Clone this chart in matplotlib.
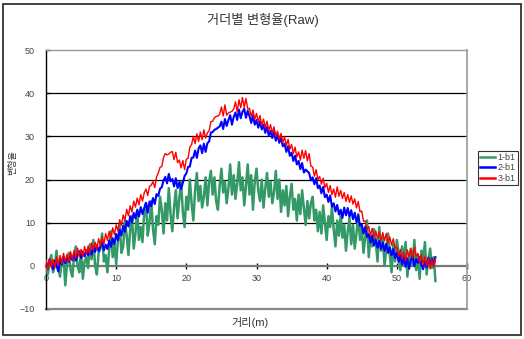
import numpy as np
import matplotlib
matplotlib.use("Agg")
import matplotlib.pyplot as plt
from matplotlib.patches import Rectangle
from matplotlib.lines import Line2D

plt.rcParams['font.family'] = ['Liberation Sans', 'Noto Sans CJK KR', 'DejaVu Sans']

title = "거더별 변형율(Raw)"
xlabel = "거리(m)"
ylabel = "변형율"
series_names = ["1-b1", "2-b1", "3-b1"]
series_colors = ["#339966", "#0000FF", "#FF0000"]
x_ticks = [0, 10, 20, 30, 40, 50, 60]
y_ticks = [-10, 0, 10, 20, 30, 40, 50]

# sample positions along the girder, every 0.25 m
distance = np.arange(0, 55.51, 0.25)

b1_1 = [
    1.0, -2.0, 0.5, 2.5,    -1.5, 0.0, 3.5, -0.5,  -2.5, 1.5, 2.0, -4.5,
    0.5, 3.0, -1.0, -2.5,   2.0, 4.5, 0.0, -1.5,   3.5, -3.0, 1.0, 2.0,
    -0.5, 5.0, 1.5, 6.0,    0.0, -2.0, 3.0, 4.0,   7.5, 1.0, 2.5, -1.5,
    3.5, 8.0, 2.0, 5.0,     0.5, 6.0, 9.5, 3.0,    4.5, 10.5, 7.0, 2.5,
    8.5, 11.5, 4.0, 7.5,    13.0, 6.0, 9.0, 5.5,   12.5, 14.5, 7.0, 10.0,
    15.0, 8.5, 5.0, 11.5,   9.5, 16.0, 13.0, 7.5,  14.5, 10.5, 18.0, 12.0,
    8.0, 13.5, 17.5, 11.0,  15.5, 19.5, 12.5, 9.0, 16.0, 13.0, 20.0, 14.5,
    10.5, 17.5, 21.5, 15.0, 18.5, 13.5, 16.0, 20.5, 14.0, 19.5, 22.0, 16.5,
    20.5, 15.0, 13.0, 18.5, 22.5, 17.0, 19.5, 14.5, 18.0, 23.5, 16.5, 21.0,
    15.5, 19.0, 24.0, 17.5, 20.5, 14.0, 18.5, 23.5, 16.5, 21.0, 13.0, 19.5,
    22.5, 17.5, 15.0, 20.0, 13.5, 18.0, 21.5, 16.0, 19.5, 14.5, 17.0, 22.0,
    15.5, 20.0, 12.5, 17.5, 14.0, 18.5, 11.5, 16.0, 19.0, 13.0, 15.5, 10.5,
    16.5, 12.0, 17.5, 13.5, 9.5, 15.0, 11.0, 14.5, 16.0, 10.5, 13.0, 8.0,
    12.5, 7.5, 14.0, 10.0,  6.0, 11.5, 9.0, 13.5,  8.5, 4.5, 10.5, 7.0,
    12.0, 6.5, 9.5, 3.5,    8.0, 11.0, 5.0, 9.5,   4.0, 7.5, 12.0, 6.0,
    9.0, 3.0, 6.5, 10.5,    2.0, 7.0, 4.5, 8.5,    5.5, 1.0, 9.0, 3.5,
    6.5, 0.0, 4.0, 7.5,     2.5, -1.5, 5.0, 1.0,   6.0, 3.0, -1.0, 4.5,
    0.5, 5.5, -2.5, 2.0,    4.0, 0.0, 6.0, -1.0,   2.5, -3.0, 3.5, 1.0,
    5.5, -2.0, 1.5, 4.0,    -0.5, 2.0, -3.5,
]

b1_2 = [
    0.8, -0.6, 1.5, 0.2,    -0.8, 1.2, 0.0, -1.3,  1.6, 0.3, 2.2, 0.6,
    2.0, 0.9, 2.6, 1.3,     2.9, 1.2, 2.4, 3.4,    1.8, 3.3, 2.2, 3.6,
    2.4, 3.9, 2.6, 4.4,     3.2, 4.8, 3.4, 4.6,    5.3, 3.6, 4.9, 3.9,
    5.9, 4.4, 6.4, 5.0,     7.4, 5.9, 8.3, 7.0,    9.3, 7.9, 10.4, 9.1,
    11.5, 10.0, 12.3, 11.0, 12.9, 11.4, 13.6, 12.0, 13.4, 14.6, 12.3, 14.9,
    13.8, 15.7, 14.3, 16.6, 16.2, 17.9, 18.2, 19.8, 20.6, 19.1, 21.3, 19.6,
    20.1, 18.4, 20.3, 18.0, 19.4, 17.8, 19.2, 20.8, 21.4, 22.9, 23.0, 25.0,
    25.1, 26.7, 25.0, 27.2, 27.9, 26.1, 28.3, 26.4, 28.4, 28.8, 30.9, 31.0,
    31.5, 31.7, 32.0, 32.3, 33.4, 31.7, 34.0, 32.4, 33.8, 34.9, 32.7, 34.5,
    35.5, 33.8, 36.2, 34.2, 35.7, 36.4, 34.3, 35.9, 34.7, 33.1, 34.9, 32.7,
    33.8, 32.0, 33.5, 31.6, 32.7, 30.8, 32.2, 30.2, 31.3, 29.6, 31.1, 29.0,
    30.3, 28.5, 29.7, 27.7, 28.3, 26.4, 27.7, 25.5, 26.2, 24.3, 25.5, 23.5,
    24.3, 22.4, 23.8, 21.6, 22.3, 21.9, 21.5, 19.8, 20.5, 18.9, 20.3, 18.0,
    18.6, 16.8, 18.3, 15.9, 16.5, 14.8, 16.3, 13.7, 14.5, 12.6, 14.1, 11.9,
    13.0, 11.1, 13.5, 11.7, 13.4, 11.3, 12.9, 10.8, 12.3, 10.1, 11.7, 9.3,
    9.6, 7.5, 9.1, 6.7,     7.3, 5.4, 7.0, 4.7,    6.1, 4.2, 5.8, 3.9,
    5.4, 3.5, 5.1, 3.0,     4.3, 2.4, 3.9, 1.8,    3.0, 0.9, 2.5, 0.3,
    2.0, -0.2, 1.7, -0.7,   1.4, 2.3, -0.1, 1.6,   0.7, 2.0, 0.3, -0.8,
    1.5, -0.4, 1.9, 0.1,    1.7, 0.0, 2.0,
]

b1_3 = [
    1.3, -1.0, 1.7, -0.2,   1.5, -0.4, 2.1, 0.2,   2.4, 0.5, 2.9, 1.0,
    2.7, 0.9, 3.3, 1.5,     3.6, 1.8, 4.1, 2.2,    3.8, 2.1, 4.5, 2.7,
    4.6, 3.0, 5.3, 3.7,     5.5, 3.9, 6.3, 4.6,    6.7, 5.0, 7.5, 5.9,
    8.0, 6.3, 8.8, 7.2,     9.5, 8.1, 10.7, 9.4,   11.8, 10.5, 13.1, 11.6,
    13.9, 12.5, 15.0, 13.6, 15.7, 14.1, 16.5, 15.0, 16.9, 17.8, 16.3, 18.4,
    18.7, 19.5, 18.1, 20.6, 21.5, 22.8, 23.0, 25.1, 26.0, 25.7, 25.9, 26.3,
    26.5, 24.6, 26.3, 23.9, 24.5, 22.7, 24.4, 22.3, 24.7, 24.9, 27.5, 28.1,
    30.0, 28.3, 30.6, 28.8, 31.0, 29.2, 31.5, 29.6, 30.8, 31.3, 33.4, 33.5,
    34.3, 34.6, 34.7, 35.1, 36.8, 34.7, 37.3, 34.9, 35.4, 35.6, 35.8, 36.3,
    38.0, 35.7, 38.5, 36.6, 39.0, 36.7, 38.8, 36.3, 36.5, 34.6, 36.1, 33.9,
    35.3, 33.4, 34.8, 32.5, 34.0, 32.1, 33.5, 31.3, 32.7, 30.8, 32.2, 30.0,
    31.2, 29.3, 30.7, 28.5, 29.9, 27.8, 29.3, 27.0, 28.1, 26.0, 27.5, 25.2,
    26.4, 24.5, 26.8, 24.9, 26.7, 24.3, 26.0, 23.1, 22.9, 20.8, 22.3, 20.0,
    20.7, 18.9, 20.3, 18.1, 19.1, 17.0, 18.6, 16.5, 17.8, 15.9, 18.3, 16.1,
    17.5, 15.6, 17.0, 14.9, 16.5, 14.7, 16.2, 14.3, 15.5, 13.4, 14.9, 12.5,
    12.7, 10.3, 10.4, 8.5,  9.1, 7.0, 8.7, 6.5,    8.1, 6.3, 7.8, 5.9,
    7.7, 5.8, 7.5, 5.3,     6.7, 4.8, 6.3, 4.1,    4.3, 2.2, 3.8, 1.6,
    3.1, 1.2, 3.7, 2.0,     3.9, 1.8, 4.3, 2.2,    2.9, 0.8, 2.6, 0.3,
    2.1, 0.0, 1.8, -0.7,    1.5, -0.3, 1.7,
]

W, H = 524, 339
fig = plt.figure(figsize=(W / 100, H / 100), dpi=100)

# outer chart frame
fig.patches.append(Rectangle((3 / W, 4 / H), 518 / W, 331 / H, transform=fig.transFigure,
                             fill=False, edgecolor="#222222", linewidth=1.2))

ax = fig.add_axes([46 / W, 1 - 309 / H, 421 / W, 259 / H])

ax.set_xlim(0, 60)
ax.set_ylim(-10, 50)

for yv in [10, 20, 30, 40]:
    ax.axhline(yv, color="black", linewidth=0.9, zorder=1)

widths = [1.8, 1.5, 1.0]
for vals, name, col, lw in zip([b1_1, b1_2, b1_3], series_names, series_colors, widths):
    ax.plot(distance, vals, color=col, linewidth=lw, label=name, zorder=3)

# spines: bottom spine carries the x ticks along y = 0
ax.spines['bottom'].set_position(('data', 0))
ax.spines['bottom'].set_color("#777777")
ax.spines['bottom'].set_linewidth(1.6)
ax.spines['bottom'].set_zorder(2)
ax.spines['left'].set_color("black")
ax.spines['left'].set_linewidth(1.0)
ax.spines['top'].set_color("#999999")
ax.spines['right'].set_color("#999999")
ax.spines['top'].set_linewidth(1.0)
ax.spines['right'].set_linewidth(1.2)
ax.axhline(-10, color="#888888", linewidth=1.6, zorder=2, clip_on=False)

ax.set_xticks(x_ticks)
ax.set_yticks(y_ticks)
ax.tick_params(axis='x', direction='inout', length=4, width=1, color="black",
               labelsize=6.5, labelcolor="#444444", pad=4)
ax.tick_params(axis='y', direction='in', length=3, width=1, color="black",
               labelsize=6.5, labelcolor="#444444", pad=8)

fig.text(263 / W, 1 - 20 / H, title, ha='center', va='center', fontsize=9.5, color="#333333")
fig.text(250 / W, 1 - 323 / H, xlabel, ha='center', va='center', fontsize=8, color="#333333")
fig.text(13 / W, 1 - 163 / H, ylabel, ha='center', va='center', fontsize=6.5,
         color="#333333", rotation=90)

handles = [Line2D([0], [0], color=c, linewidth=1.8) for c in series_colors]
leg = fig.legend(handles, series_names, loc='center left',
                 bbox_to_anchor=(478 / W, 1 - 168 / H), fontsize=6.5,
                 frameon=True, fancybox=False, handlelength=1.6, handletextpad=0.3,
                 borderpad=0.25, labelspacing=0.15, borderaxespad=0)
leg.get_frame().set_edgecolor("black")
leg.get_frame().set_linewidth(0.8)
for t in leg.get_texts():
    t.set_color("#444444")

fig.savefig("out.png", dpi=100)
